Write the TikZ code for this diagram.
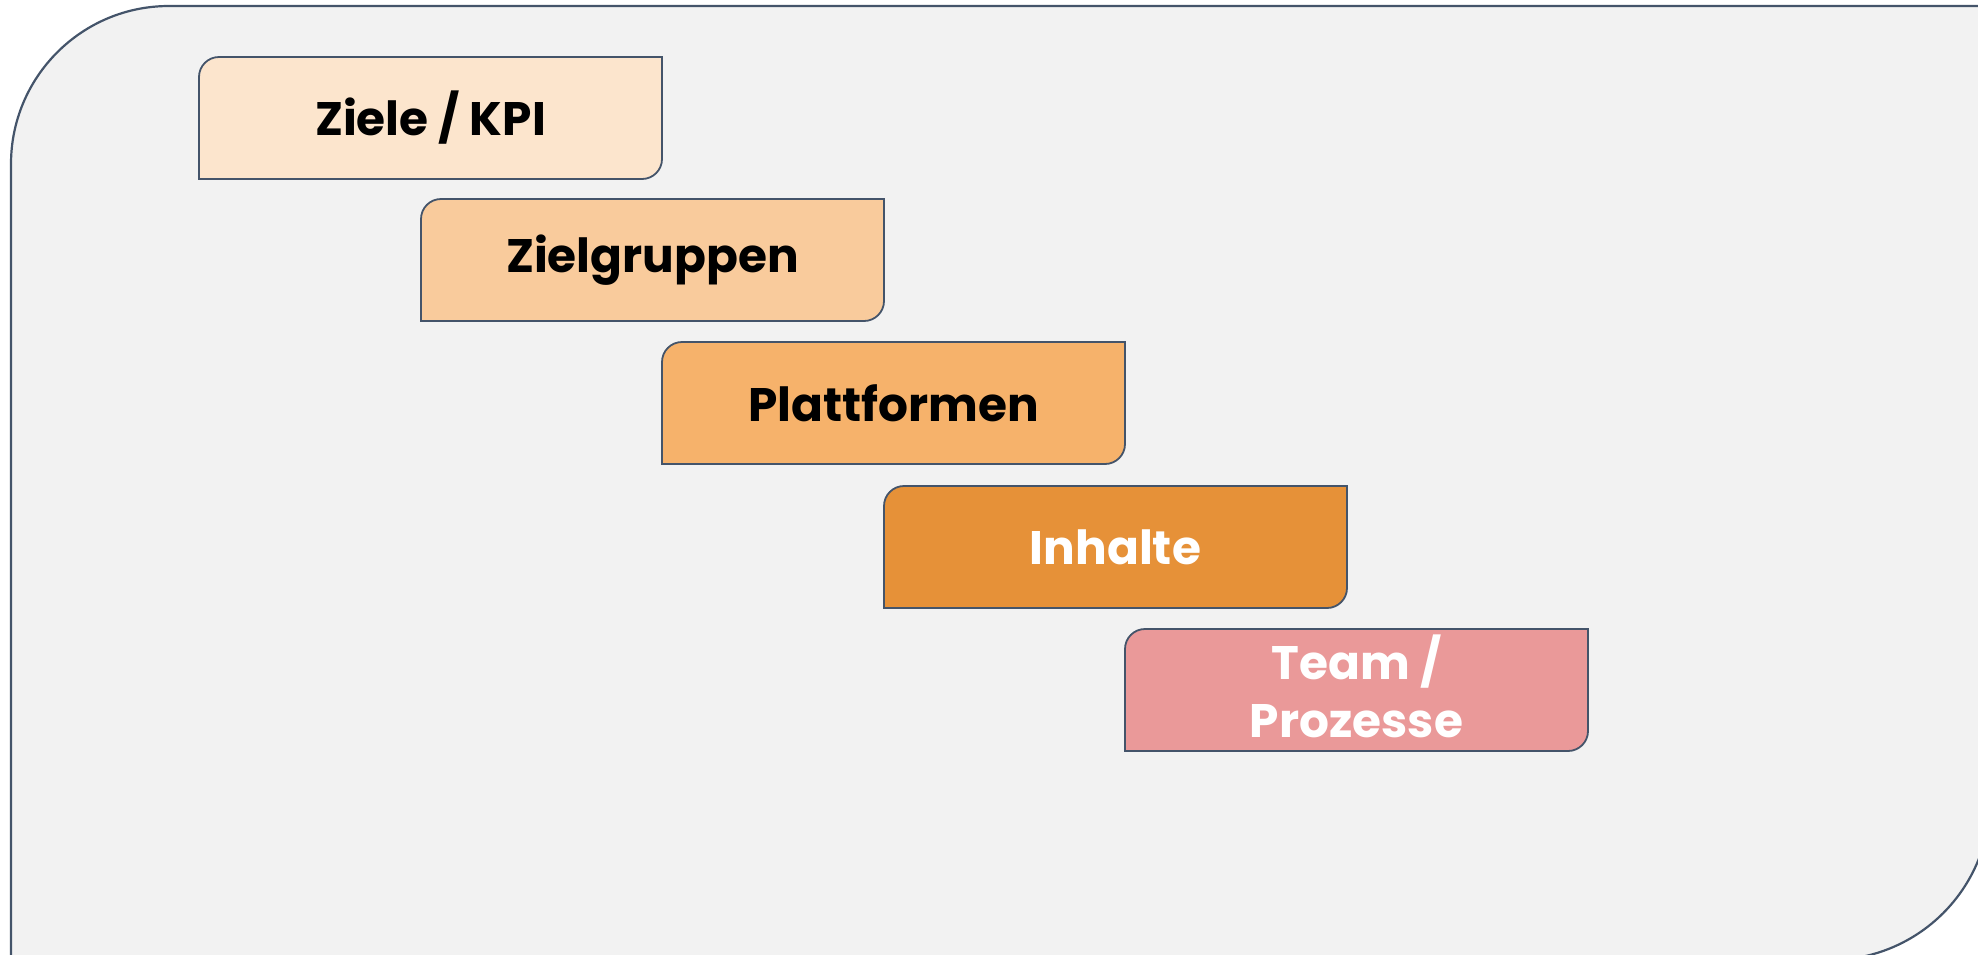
\documentclass[tikz,border=0pt]{standalone}
\usepackage{fontspec}
\setmainfont{Poppins}
\definecolor{bgfill}{HTML}{F2F2F2}
\definecolor{edge}{HTML}{44546A}
\definecolor{cA}{HTML}{FCE5CD}
\definecolor{cB}{HTML}{F9CB9C}
\definecolor{cC}{HTML}{F6B26B}
\definecolor{cD}{HTML}{E69138}
\definecolor{cE}{HTML}{EA9999}
\tikzset{
  boxedge/.style={draw=edge, line width=1.8pt},
  label/.style={font=\fontsize{47}{58}\selectfont\bfseries, align=center, inner sep=0pt},
}
\begin{document}
\begin{tikzpicture}[x=1pt, y=-1pt]
\useasboundingbox (0,0) rectangle (1978,954);
\begin{scope}
\clip (0,0) rectangle (1978,954);
\fill[bgfill, draw=edge, line width=2.2pt]
  (11,980) -- (11,164) arc[start angle=180, end angle=270, radius=158]
  -- (1990,6) -- (1990,800) arc[start angle=0, end angle=90, radius=160]
  -- (1830,960) -- (11,960) -- cycle;
\end{scope}
\foreach \x/\y/\c in {199/57/cA, 421/199/cB, 662/342/cC, 884/486/cD, 1125/629/cE}{
  \fill[\c, boxedge]
    (\x, \y+122) -- (\x, \y+20) arc[start angle=180, end angle=270, radius=20]
    -- (\x+463, \y) -- (\x+463, \y+102) arc[start angle=0, end angle=90, radius=20]
    -- cycle;
}
\node[label, text=black] (kpi) at (430.5,118) {Ziele / KPI};
\node[label, text=black] (zg) at (652.5,260) {Zielgruppen};
\node[label, text=black] (pf) at (893.5,403) {Plattformen};
\node[label, text=white] (inh) at (1115.5,547) {Inhalte};
\node[label, text=white] (team) at (1356.5,686) {Team /\\Prozesse};
\end{tikzpicture}
\end{document}
